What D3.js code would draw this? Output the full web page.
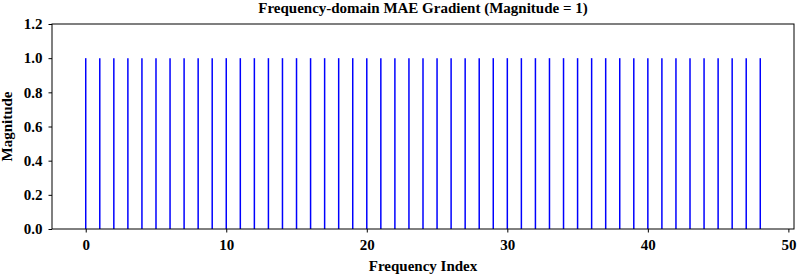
<!DOCTYPE html>
<html>
<head>
<meta charset="utf-8">
<script src="https://cdn.jsdelivr.net/npm/d3@7"></script>
<style>
  body { margin: 0; background: #fff; }
  text { font-family: "Liberation Serif", "Times New Roman", serif; font-weight: bold; }
</style>
</head>
<body>
<svg width="798" height="276"></svg>
<script>
// data: 49 frequency bins, each with magnitude 1
const freqIndex = d3.range(0, 49);
const magnitude = freqIndex.map(() => 1);
const xTicks = [0, 10, 20, 30, 40, 50];
const yTicks = [0, 0.2, 0.4, 0.6, 0.8, 1.0, 1.2];

const svg = d3.select('svg');
const MARGIN = { TOP: 24, RIGHT: 4, BOTTOM: 47, LEFT: 52 };
const WIDTH = +svg.attr('width') - MARGIN.LEFT - MARGIN.RIGHT;
const HEIGHT = +svg.attr('height') - MARGIN.TOP - MARGIN.BOTTOM;
const FONT = '15px';

const g = svg.append('g')
  .attr('transform', `translate(${MARGIN.LEFT}, ${MARGIN.TOP})`);

const x = d3.scaleLinear().domain([-2.4, 50.4]).range([0, WIDTH]);
const y = d3.scaleLinear().domain([0, 1.2]).range([HEIGHT, 0]);

// stems
g.selectAll('.stem')
  .data(freqIndex)
  .enter()
  .append('line')
  .attr('class', 'stem')
  .attr('x1', d => x(d))
  .attr('x2', d => x(d))
  .attr('y1', y(0))
  .attr('y2', (d, i) => y(magnitude[i]))
  .attr('stroke', '#0000ff')
  .attr('stroke-width', 1.5);

// axes
const xAxis = g.append('g')
  .attr('transform', `translate(0, ${HEIGHT})`)
  .call(d3.axisBottom(x).tickValues(xTicks).tickSize(3.5).tickPadding(7).tickFormat(d3.format('d')));
const yAxis = g.append('g')
  .call(d3.axisLeft(y).tickValues(yTicks).tickSize(3.5).tickPadding(6).tickFormat(d3.format('.1f')));

[xAxis, yAxis].forEach(a => {
  a.select('.domain').remove();
  a.selectAll('line').attr('stroke', '#000').attr('stroke-width', 1);
  a.selectAll('text').attr('fill', '#000').style('font-size', FONT)
    .style('font-family', '"Liberation Serif", serif').style('font-weight', 'bold');
});

// frame
g.append('rect')
  .attr('width', WIDTH)
  .attr('height', HEIGHT)
  .attr('fill', 'none')
  .attr('stroke', '#000')
  .attr('stroke-width', 1);

// title and labels
svg.append('text')
  .attr('x', MARGIN.LEFT + WIDTH / 2)
  .attr('y', 12.5)
  .attr('text-anchor', 'middle')
  .style('font-size', FONT)
  .text('Frequency-domain MAE Gradient (Magnitude = 1)');

svg.append('text')
  .attr('x', MARGIN.LEFT + WIDTH / 2)
  .attr('y', 271)
  .attr('text-anchor', 'middle')
  .style('font-size', FONT)
  .text('Frequency Index');

svg.append('text')
  .attr('transform', `translate(12, ${MARGIN.TOP + HEIGHT / 2}) rotate(-90)`)
  .attr('text-anchor', 'middle')
  .style('font-size', FONT)
  .text('Magnitude');
</script>
</body>
</html>
